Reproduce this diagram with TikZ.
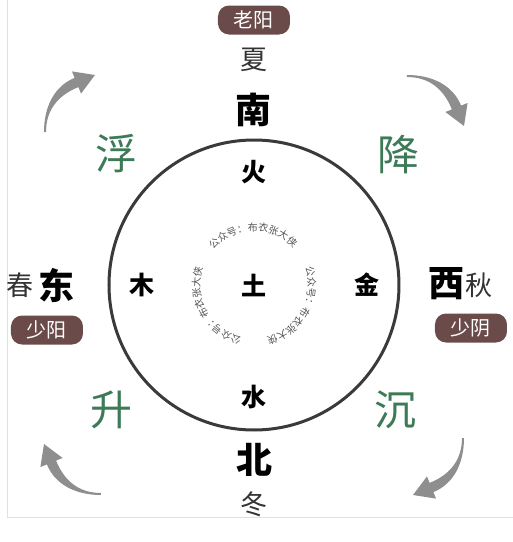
\documentclass[tikz,border=0pt]{standalone}
\usepackage{fontspec}
\setmainfont{Noto Sans CJK SC}
\usetikzlibrary{decorations.text}

\definecolor{badgebrown}{HTML}{6B4A4A}
\definecolor{liftgreen}{HTML}{3D7A58}
\definecolor{ringgray}{HTML}{3A3A3A}
\definecolor{arrowgray}{HTML}{8E8E8E}
\definecolor{seasongray}{HTML}{333333}
\definecolor{markgray}{HTML}{555555}

\tikzset{
  direction/.style={font=\fontsize{36}{40}\selectfont\bfseries, text=black, inner sep=0pt},
  element/.style={font=\fontsize{25}{28}\selectfont\bfseries, text=black, inner sep=0pt},
  season/.style={font=\fontsize{27}{30}\selectfont, text=seasongray, inner sep=0pt},
  motion/.style={font=\fontsize{42}{46}\selectfont, text=liftgreen, inner sep=0pt},
  badge/.style={fill=badgebrown, text=white, rounded corners=11pt, minimum width=72pt,
    minimum height=29pt, inner sep=0pt, font=\fontsize{20}{22}\selectfont},
}

\begin{document}
\begin{tikzpicture}[x=1pt,y=1pt]
    \useasboundingbox (-254,-257) rectangle (259,285);
    % Frame of the screenshot:
    \draw[black!12, line width=0.6pt] (-247,285) -- (-247,-232) -- (259,-232);
    \begin{scope}
    \clip (-247,-232) rectangle (259,285);

    % Ring:
    \draw[ringgray, line width=3pt] (0,0) circle[radius=145pt];

    % Five elements
    \node[element] (tu)   at (0,0)    {土};
    \node[element] (huo)  at (0,113)  {火};
    \node[element] (shui) at (0,-112) {水};
    \node[element] (mu)   at (-112,0) {木};
    \node[element] (jin)  at (113,0)  {金};

    % Watermark round the centre:
    \foreach \a in {139,19,-103}{%
        \path[decorate, decoration={text along path, text color=markgray,
            text={|\fontsize{10}{10}\selectfont|公众号：布衣张大侠}}]
            (\a:54) arc[start angle=\a, end angle=\a-118, radius=54pt];
    }

    % Directions and seasons
    \node[direction] (nan) at (0,175)    {南};
    \node[direction] (bei) at (1,-175)   {北};
    \node[direction] (dong) at (-197,0)  {东};
    \node[direction] (xi)   at (193,1)   {西};
    \node[season] (xia)   at (0,225)     {夏};
    \node[season] (dongj) at (0,-219)    {冬};
    \node[season] (chun)  at (-234,0)    {春};
    \node[season] (qiu)   at (225,0)     {秋};

    % Yin and yang badges
    \node[badge] (laoyang)  at (0,265)    {老阳};
    \node[badge] (shaoyang) at (-207,-45) {少阳};
    \node[badge] (shaoyin)  at (217,-43)  {少阴};

    % Rising, floating, falling, sinking
    \node[motion] (fu)    at (-137,131)  {浮};
    \node[motion] (jiang) at (145,130)   {降};
    \node[motion] (sheng) at (-142,-125) {升};
    \node[motion] (chen)  at (142,-125)  {沉};

    % Turning arrows:
    % One tapered arrow, turned a quarter each time
    \foreach \r in {0,-90,-180,-270}{%
        \fill[arrowgray, rotate=\r] (-210,153) .. controls (-210,178) and (-199.8,198.9) .. (-179.4,207.1)
            -- (-182,213.6) -- (-159,210) -- (-173,191.4) -- (-175.6,197.9)
            .. controls (-196,189.7) and (-208,175) .. (-208,153) -- cycle;
    }
    \end{scope}
\end{tikzpicture}
\end{document}
